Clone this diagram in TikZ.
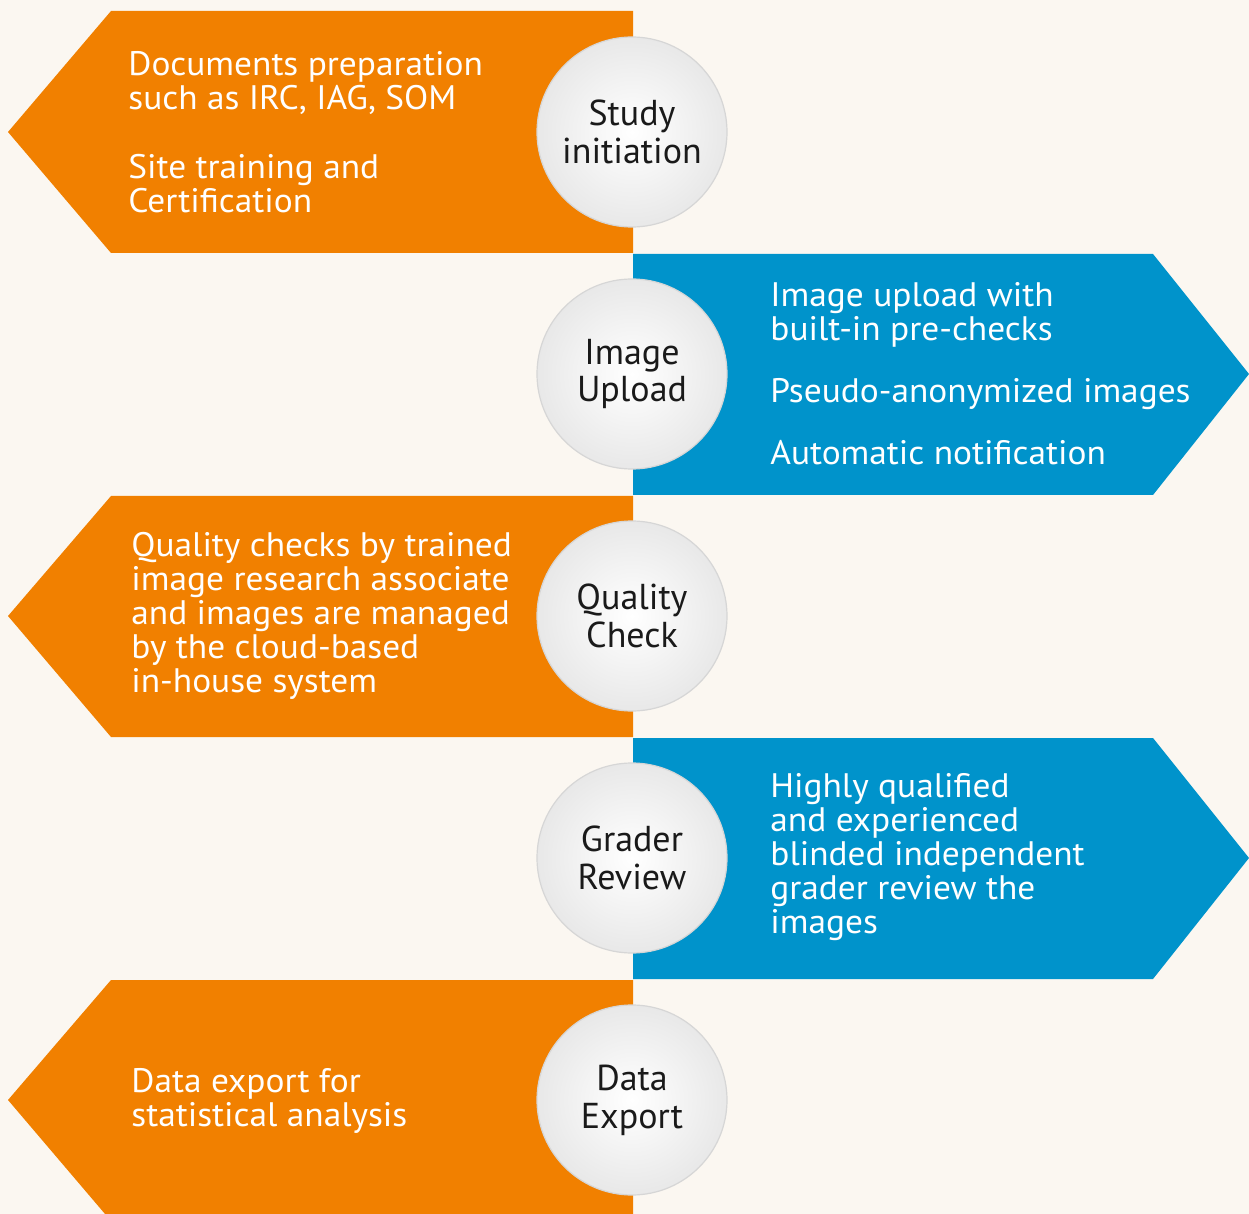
\documentclass[tikz,border=0pt]{standalone}
\usepackage{fontspec}
\setmainfont{PT Sans}
\newfontfamily\bodyfont[FakeStretch=1.04]{PT Sans}
\definecolor{bg}{HTML}{FBF7F1}
\definecolor{orng}{HTML}{F18000}
\definecolor{blu}{HTML}{0093CB}
\definecolor{ink}{HTML}{1A1A1A}
\definecolor{rim}{HTML}{D6D6D6}
\begin{document}
\begin{tikzpicture}[x=0.5pt,y=-0.5pt,
  body/.style={anchor=base west,inner sep=0pt,align=left,text=white,
    font=\bodyfont\fontsize{17}{17}\selectfont},
  ball/.style={circle,minimum size=95pt,inner sep=0pt,align=center,
    draw=rim,line width=0.6pt,shade,inner color=white,outer color=black!9,
    text=ink,font=\fontsize{18}{19}\selectfont}]
\clip (0,0) rectangle (1249,1214);
\fill[bg] (0,0) rectangle (1249,1214);
% arrows
\fill[orng] (633,11) -- (111,11) -- (8,132) -- (111,253) -- (633,253) -- cycle;
\fill[blu] (633,254) -- (1153,254) -- (1249,374) -- (1153,495) -- (633,495) -- cycle;
\fill[orng] (633,496) -- (111,496) -- (8,616) -- (111,737) -- (633,737) -- cycle;
\fill[blu] (633,738) -- (1153,738) -- (1249,858) -- (1153,979) -- (633,979) -- cycle;
\fill[orng] (633,980) -- (111,980) -- (8,1100) -- (111,1221) -- (633,1221) -- cycle;
% circles
\node[ball] (c1) at (632,132) {Study\\initiation};
\node[ball] (c2) at (632,374) {Image\\Upload};
\node[ball] (c3) at (632,616) {Quality\\Check};
\node[ball] (c4) at (632,858) {Grader\\Review};
\node[ball] (c5) at (632,1100) {Data\\Export};
% texts (anchored at the baseline of the last line)
\node[body] (t1a) at (128,110) {Documents preparation\\such as IRC, IAG, SOM};
\node[body] (t1b) at (128,213) {Site training and\\Certification};
\node[body] (t2a) at (770,341) {Image upload with\\built-in pre-checks};
\node[body] (t2b) at (770,403) {Pseudo-anonymized images};
\node[body] (t2c) at (770,465) {Automatic notification};
\node[body] (t3) at (131,692) {Quality checks by trained\\image research associate\\and images are managed\\by the cloud-based\\in-house system};
\node[body] (t4) at (770,933) {Highly qualified\\and experienced\\blinded independent\\grader review the\\images};
\node[body] (t5) at (131,1126) {Data export for\\statistical analysis};
\end{tikzpicture}
\end{document}
